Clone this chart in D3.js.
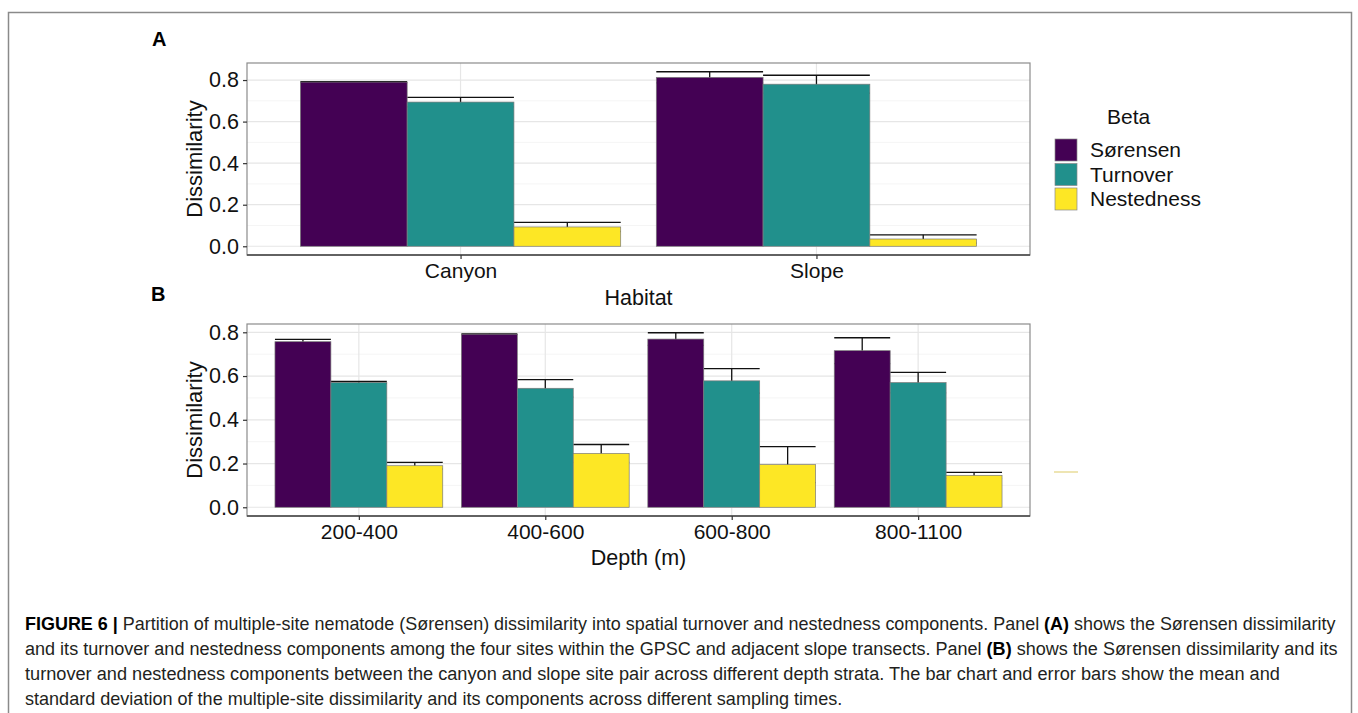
<!DOCTYPE html>
<html>
<head>
<meta charset="utf-8">
<script src="https://cdn.jsdelivr.net/npm/d3@7"></script>
<style>
  html, body { margin: 0; padding: 0; background: #fff; }
  svg { display: block; font-family: "Liberation Sans", Arial, sans-serif; }
</style>
</head>
<body>
<svg id="fig" width="1358" height="713"></svg>
<script>
// ---- Data: multiple-site beta diversity partition (mean and SD) ----
const betaSeries = ["Sørensen", "Turnover", "Nestedness"];
const betaColors = ["#440154", "#21908C", "#FDE725"];

// Panel A: by habitat
const habitats = ["Canyon", "Slope"];
const sorensenA = [0.790, 0.813];
const turnoverA = [0.694, 0.780];
const nestednessA = [0.093, 0.035];
const sorensenSdA = [0.002, 0.027];
const turnoverSdA = [0.023, 0.043];
const nestednessSdA = [0.022, 0.020];

// Panel B: by depth stratum
const depths = ["200-400", "400-600", "600-800", "800-1100"];
const sorensenB = [0.757, 0.791, 0.769, 0.716];
const turnoverB = [0.570, 0.544, 0.578, 0.570];
const nestednessB = [0.190, 0.246, 0.195, 0.146];
const sorensenSdB = [0.011, 0.002, 0.029, 0.059];
const turnoverSdB = [0.005, 0.040, 0.056, 0.047];
const nestednessSdB = [0.015, 0.041, 0.082, 0.014];

const yTicks = [0, 0.2, 0.4, 0.6, 0.8];

function rows(cats, means, sds) {
  const out = [];
  cats.forEach((c, i) => {
    betaSeries.forEach((s, j) => {
      out.push({ cat: c, series: s, mean: means[j][i], sd: sds[j][i], color: betaColors[j] });
    });
  });
  return out;
}

const svg = d3.select("#fig");

// outer figure frame (open at the bottom)
svg.append("path")
  .attr("d", "M8.5,713 L8.5,12.5 L1351.5,12.5 L1351.5,713")
  .attr("fill", "none").attr("stroke", "#8a8a8a").attr("stroke-width", 1.5);

function drawPanel(opt) {
  const { left, right, top, bottom, cats, data, xTitle, xTitleY, tickY, letter, letterX, letterY } = opt;
  const g = svg.append("g");

  const maxVal = d3.max(data, d => d.mean + d.sd);
  const pad = maxVal * 0.05;
  const y = d3.scaleLinear().domain([-pad, maxVal + pad]).range([bottom, top]);
  const x = d3.scalePoint().domain(cats).range([left, right]).padding(0.6);
  const step = x.step();
  const inner = d3.scaleBand().domain(betaSeries).range([-0.45 * step, 0.45 * step]);

  // panel background grid
  const minor = d3.range(0.1, maxVal + pad, 0.2);
  g.selectAll(".minor").data(minor).join("line")
    .attr("x1", left).attr("x2", right)
    .attr("y1", d => y(d)).attr("y2", d => y(d))
    .attr("stroke", "#f3f3f3").attr("stroke-width", 0.8);
  g.selectAll(".major").data(yTicks).join("line")
    .attr("x1", left).attr("x2", right)
    .attr("y1", d => y(d)).attr("y2", d => y(d))
    .attr("stroke", "#e6e6e6").attr("stroke-width", 1.2);
  g.selectAll(".vmajor").data(cats).join("line")
    .attr("x1", d => x(d)).attr("x2", d => x(d))
    .attr("y1", top).attr("y2", bottom)
    .attr("stroke", "#e6e6e6").attr("stroke-width", 1.2);

  // error bars (drawn beneath the bars, so only the upper whisker shows)
  const eb = g.append("g");
  data.forEach(d => {
    const cx = x(d.cat) + inner(d.series) + inner.bandwidth() / 2;
    const x0 = x(d.cat) + inner(d.series);
    const x1 = x0 + inner.bandwidth();
    eb.append("line").attr("x1", cx).attr("x2", cx)
      .attr("y1", y(d.mean - d.sd)).attr("y2", y(d.mean + d.sd))
      .attr("stroke", "#111").attr("stroke-width", 1.3);
    [d.mean - d.sd, d.mean + d.sd].forEach(v => {
      eb.append("line").attr("x1", x0).attr("x2", x1)
        .attr("y1", y(v)).attr("y2", y(v))
        .attr("stroke", "#111").attr("stroke-width", 1.3);
    });
  });

  // bars
  g.selectAll(".bar").data(data).join("rect")
    .attr("x", d => x(d.cat) + inner(d.series))
    .attr("width", inner.bandwidth())
    .attr("y", d => y(d.mean))
    .attr("height", d => y(0) - y(d.mean))
    .attr("fill", d => d.color)
    .attr("stroke", "#7a7a7a").attr("stroke-width", 0.7);

  // panel border
  g.append("rect").attr("x", left).attr("y", top)
    .attr("width", right - left).attr("height", bottom - top)
    .attr("fill", "none").attr("stroke", "#8c8c8c").attr("stroke-width", 1.2);
  g.append("line").attr("x1", left).attr("x2", right)
    .attr("y1", bottom).attr("y2", bottom)
    .attr("stroke", "#444").attr("stroke-width", 1.6);

  // y axis
  const yAxis = d3.axisLeft(y).tickValues(yTicks).tickFormat(d3.format(".1f")).tickSize(4).tickPadding(4);
  const ya = g.append("g").attr("transform", `translate(${left},0)`).call(yAxis);
  ya.select(".domain").remove();
  ya.selectAll(".tick line").attr("stroke", "#333").attr("stroke-width", 1.2);
  ya.selectAll(".tick text").attr("font-size", 21.5).attr("fill", "#111")
    .attr("font-family", "Liberation Sans, Arial, sans-serif");

  // x axis
  const xAxis = d3.axisBottom(x).tickSize(4).tickPadding(6);
  const xa = g.append("g").attr("transform", `translate(0,${bottom})`).call(xAxis);
  xa.select(".domain").remove();
  xa.selectAll(".tick line").attr("stroke", "#333").attr("stroke-width", 1.2);
  xa.selectAll(".tick text").attr("font-size", 21).attr("fill", "#111")
    .attr("font-family", "Liberation Sans, Arial, sans-serif")
    .attr("y", tickY - bottom).attr("dy", "0.35em");

  // axis titles
  g.append("text").attr("x", (left + right) / 2).attr("y", xTitleY)
    .attr("text-anchor", "middle").attr("font-size", 21.5).attr("fill", "#111").text(xTitle);
  g.append("text")
    .attr("transform", `translate(202,${(top + bottom) / 2}) rotate(-90)`)
    .attr("text-anchor", "middle").attr("font-size", 22).attr("fill", "#111").text("Dissimilarity");

  // panel letter
  g.append("text").attr("x", letterX).attr("y", letterY)
    .attr("font-size", 20).attr("font-weight", "bold").attr("fill", "#000").text(letter);
}

drawPanel({
  left: 247, right: 1030, top: 63, bottom: 255,
  cats: habitats,
  data: rows(habitats, [sorensenA, turnoverA, nestednessA], [sorensenSdA, turnoverSdA, nestednessSdA]),
  xTitle: "Habitat", xTitleY: 305, tickY: 271,
  letter: "A", letterX: 152, letterY: 46
});

drawPanel({
  left: 247, right: 1030, top: 324, bottom: 516,
  cats: depths,
  data: rows(depths, [sorensenB, turnoverB, nestednessB], [sorensenSdB, turnoverSdB, nestednessSdB]),
  xTitle: "Depth (m)", xTitleY: 565, tickY: 532,
  letter: "B", letterX: 151, letterY: 301
});

// legend
const leg = svg.append("g");
leg.append("text").attr("x", 1107).attr("y", 124).attr("font-size", 21).attr("fill", "#111").text("Beta");
betaSeries.forEach((s, i) => {
  const ky = 139 + i * 24.5;
  leg.append("rect").attr("x", 1055).attr("y", ky).attr("width", 22).attr("height", 22)
    .attr("fill", betaColors[i]).attr("stroke", "#8a8a8a").attr("stroke-width", 0.7);
  leg.append("text").attr("x", 1090).attr("y", ky + 11).attr("dy", "0.35em")
    .attr("font-size", 21).attr("fill", "#111").text(s);
});
// collapsed key left over from panel B's legend
svg.append("line").attr("x1", 1054).attr("x2", 1078).attr("y1", 472).attr("y2", 472)
  .attr("stroke", "#e9dd9a").attr("stroke-width", 1.5);

// caption
const captionLines = [
  [["FIGURE 6 |", true], [" Partition of multiple-site nematode (Sørensen) dissimilarity into spatial turnover and nestedness components. Panel ", false], ["(A)", true], [" shows the Sørensen dissimilarity", false]],
  [["and its turnover and nestedness components among the four sites within the GPSC and adjacent slope transects. Panel ", false], ["(B)", true], [" shows the Sørensen dissimilarity and its", false]],
  [["turnover and nestedness components between the canyon and slope site pair across different depth strata. The bar chart and error bars show the mean and", false]],
  [["standard deviation of the multiple-site dissimilarity and its components across different sampling times.", false]]
];
const captionEnds = [1337, 1338, 1281, 843];
const captionBase = [630, 655, 680, 705];
captionLines.forEach((parts, i) => {
  const t = svg.append("text").attr("font-size", 18).attr("fill", "#231f20")
    .attr("xml:space", "preserve").style("white-space", "pre");
  parts.forEach(([txt, bold]) => {
    t.append("tspan").attr("font-weight", bold ? "bold" : "normal")
      .attr("fill", bold ? "#000" : "#231f20").text(txt);
  });
  const w = t.node().getComputedTextLength();
  const sx = (captionEnds[i] - 25) / w;
  t.attr("transform", `translate(25,${captionBase[i]}) scale(${sx},1)`);
});
</script>
</body>
</html>
